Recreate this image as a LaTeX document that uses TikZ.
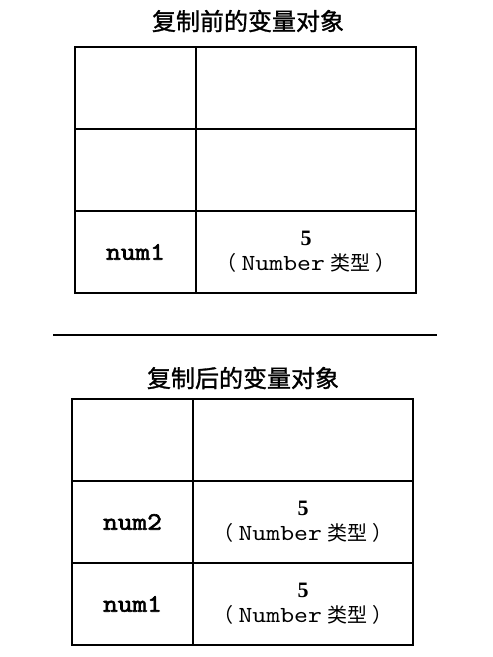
\documentclass[tikz,border=0pt]{standalone}
\usepackage{fontspec}
\setmainfont{Liberation Serif}
\newfontfamily\cjk[AutoFakeBold = 1.2]{Noto Sans CJK SC}
\newfontfamily\codefont[FakeStretch = 1.15]{lmmono10-regular.otf}
\newfontfamily\codebold[FakeStretch = 1.12, FakeBold = 2.5]{lmmono10-regular.otf}
\usetikzlibrary{positioning}

\newcommand{\numval}{{\bfseries 5}\\{\fontsize{20}{25}\selectfont\cjk （}\hspace{5pt}{\fontsize{23}{25}\selectfont\codefont Number} {\fontsize{20}{25}\selectfont\cjk 类型\hspace{5pt}）}}

\begin{document}
\begin{tikzpicture}[x = 1pt, y = -1pt, node distance = 0pt,
  cell/.style = {draw, line width = 1.3pt, outer sep = 0pt, inner sep = 0pt, minimum height = 82pt, align = center},
  namecell/.style = {cell, minimum width = 121pt, font = \fontsize{25}{28}\selectfont\codebold},
  valcell/.style = {cell, minimum width = 220pt, font = \fontsize{22}{25}\selectfont},
  title/.style = {font = \fontsize{24}{28}\selectfont\cjk\bfseries}]
\useasboundingbox (0, 0) rectangle (493, 657);
% before copying
\node[title] (titlebefore) at (248, 21) {复制前的变量对象};
\node[namecell, anchor = north west] (bname1) at (75, 47) {};
\node[valcell, right = of bname1] (bval1) {};
\node[namecell, below = of bname1] (bname2) {};
\node[valcell, right = of bname2] (bval2) {};
\node[namecell, below = of bname2] (bname3) {num1};
\node[valcell, right = of bname3] (bval3) {\numval};
% divider
\coordinate (divleft) at (53, 335);
\coordinate (divright) at (437, 335);
\draw[line width = 1.5pt] (divleft) -- (divright);
% after copying
\node[title] (titleafter) at (243, 378) {复制后的变量对象};
\node[namecell, anchor = north west] (aname1) at (72, 399) {};
\node[valcell, right = of aname1] (aval1) {};
\node[namecell, below = of aname1] (aname2) {num2};
\node[valcell, right = of aname2] (aval2) {\numval};
\node[namecell, below = of aname2] (aname3) {num1};
\node[valcell, right = of aname3] (aval3) {\numval};
\end{tikzpicture}
\end{document}
